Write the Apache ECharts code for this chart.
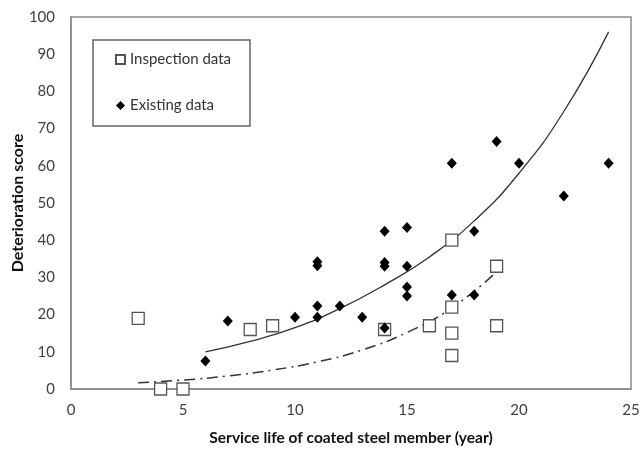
<!DOCTYPE html>
<html>
<head>
<meta charset="utf-8">
<script src="https://cdn.jsdelivr.net/npm/echarts@6/dist/echarts.min.js"></script>
<style>
  html, body { margin: 0; padding: 0; background: #fff; }
  #chart { width: 639px; height: 456px; }
</style>
</head>
<body>
<div id="chart"></div>
<script>
// Service life (years) vs deterioration score
const inspectionData = [
  [3, 19], [4, 0], [5, 0], [8, 16], [9, 17], [14, 16], [16, 17],
  [17, 40], [17, 22], [17, 15], [17, 9], [19, 33], [19, 17]
];
const existingData = [
  [6, 7.5], [7, 18.3], [10, 19.3], [11, 34.2], [11, 33.1], [11, 22.3], [11, 19.3],
  [12, 22.3], [13, 19.3], [14, 42.4], [14, 34], [14, 33], [14, 16.4],
  [15, 43.4], [15, 33], [15, 27.4], [15, 25], [17, 60.7], [17, 25.3],
  [18, 42.4], [18, 25.3], [19, 66.5], [20, 60.7], [22, 51.9], [24, 60.7]
];
// Trend curves, read along their drawn paths
const existingTrend = [
  [6, 10], [8, 12.8], [10, 16.5], [12, 21.6], [14, 28], [16, 35.5],
  [18, 45.2], [20, 58], [22, 74.6], [24, 96]
];
const inspectionTrend = [
  [3, 1.7], [5, 2.4], [7, 3.5], [9, 5.1], [11, 7.3], [13, 10.5],
  [15, 15.2], [17, 21.8], [19, 31.5]
];
const xTicks = [0, 5, 10, 15, 20, 25];
const yTicks = [0, 10, 20, 30, 40, 50, 60, 70, 80, 90, 100];

const FONT = 'Lato';
const chart = echarts.init(document.getElementById('chart'), null, { renderer: 'canvas' });

chart.setOption({
  animation: false,
  backgroundColor: '#fff',
  textStyle: { fontFamily: FONT },
  grid: {
    left: 71, right: 8, top: 17, bottom: 67,
    containLabel: false,
    outerBoundsMode: 'none',
    show: true, borderColor: '#8a8a8a', borderWidth: 1.5
  },
  legend: {
    orient: 'vertical',
    left: 93, top: 40,
    padding: [12, 19, 13, 22],
    itemGap: 31,
    itemWidth: 9, itemHeight: 9,
    itemTextGap: 10,
    borderColor: '#666', borderWidth: 1.5,
    textStyle: { fontFamily: FONT, fontSize: 15, color: '#333' },
    data: [
      { name: 'Inspection data', icon: 'rect' },
      { name: 'Existing data', icon: 'diamond', itemStyle: { color: '#000' } }
    ]
  },
  xAxis: {
    type: 'value',
    min: xTicks[0], max: xTicks[xTicks.length - 1], interval: 5,
    name: 'Service life of coated steel member (year)',
    nameLocation: 'middle', nameGap: 41,
    nameMoveOverlap: false,
    nameTextStyle: { fontFamily: FONT, fontSize: 15.5, fontWeight: 'bold', color: '#111' },
    axisLine: { show: true, lineStyle: { color: '#8a8a8a', width: 1.5 } },
    axisTick: { show: false },
    splitLine: { show: false },
    axisLabel: { margin: 14, fontSize: 15, color: '#404040', fontFamily: FONT }
  },
  yAxis: {
    type: 'value',
    min: yTicks[0], max: yTicks[yTicks.length - 1], interval: 10,
    name: 'Deterioration score',
    nameLocation: 'middle', nameGap: 45,
    nameMoveOverlap: false,
    nameTextStyle: { fontFamily: FONT, fontSize: 16, fontWeight: 'bold', color: '#111' },
    axisLine: { show: true, lineStyle: { color: '#8a8a8a', width: 1.5 } },
    axisTick: { show: false },
    splitLine: { show: false },
    axisLabel: { margin: 16, fontSize: 15, color: '#404040', fontFamily: FONT }
  },
  series: [
    {
      name: 'Existing trend',
      type: 'line',
      data: existingTrend,
      smooth: true,
      showSymbol: false,
      symbol: 'none',
      lineStyle: { color: '#333', width: 1.3 },
      z: 2
    },
    {
      name: 'Inspection trend',
      type: 'line',
      data: inspectionTrend,
      smooth: true,
      showSymbol: false,
      symbol: 'none',
      lineStyle: { color: '#333', width: 1.5, type: [11, 5, 2, 5] },
      z: 2
    },
    {
      name: 'Inspection data',
      type: 'scatter',
      data: inspectionData,
      symbol: 'rect',
      symbolSize: 12,
      itemStyle: { color: '#fff', borderColor: '#555', borderWidth: 1.3, opacity: 1 },
      z: 3
    },
    {
      name: 'Existing data',
      type: 'scatter',
      data: existingData,
      symbol: 'diamond',
      symbolSize: [10, 11],
      itemStyle: { color: '#000', opacity: 1 },
      z: 4
    }
  ]
});
</script>
</body>
</html>
